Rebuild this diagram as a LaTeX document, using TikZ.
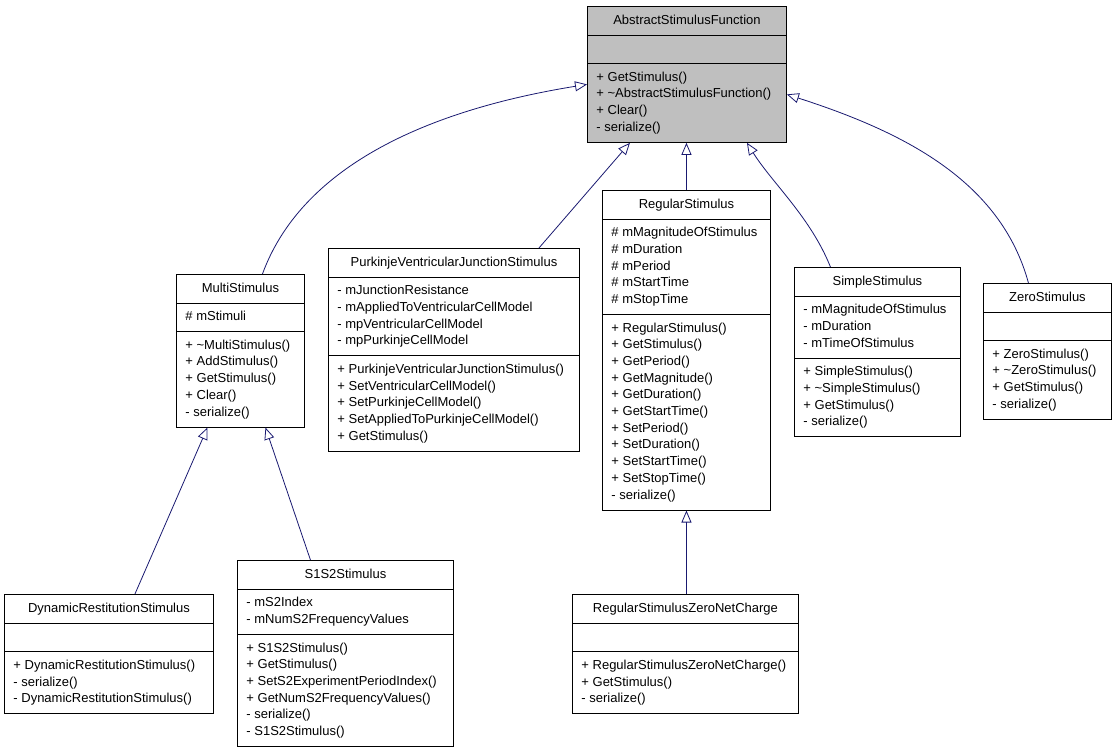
\documentclass[tikz,border=0pt]{standalone}
\usepackage{fontspec}
\setmainfont{Liberation Sans}
\usepackage{tikz}
\usetikzlibrary{shapes.multipart,arrows.meta}
\definecolor{inh}{HTML}{191970}
\newcommand{\members}[1]{\begin{tabular}{@{}l@{}}#1\end{tabular}}

\begin{document}
\begin{tikzpicture}[x=1pt,y=-1pt,
    cls/.style={rectangle split, rectangle split parts=3, draw, line width=0.9pt,
      rectangle split part align={center,left,left},
      rectangle split empty part height=11.69pt,
      rectangle split empty part depth=5.01pt,
      inner xsep=9pt, inner ysep=5.5pt, anchor=north west,
      font=\fontsize{13}{16.7}\selectfont},
    isa/.style={draw=inh, line width=0.8pt, -{Triangle[open,length=12pt,width=10pt]}}]
        \useasboundingbox (0,0) rectangle (1115,752);

        \node[cls, fill=black!25, minimum width=199pt] (ASF) at (587,6)
        {\strut AbstractStimulusFunction\nodepart{second}\nodepart{third}\members{+ GetStimulus()\\
         + \textasciitilde AbstractStimulusFunction()\\ + Clear()\\ - serialize()}};

        \node[cls, minimum width=128pt] (Multi) at (176,274)
        {\strut MultiStimulus\nodepart{second}\members{\# mStimuli}\nodepart{third}\members{+ \textasciitilde MultiStimulus()\\
         + AddStimulus()\\ + GetStimulus()\\ + Clear()\\ - serialize()}};

        \node[cls, minimum width=251pt] (PVJ) at (328,248)
        {\strut PurkinjeVentricularJunctionStimulus\nodepart{second}\members{- mJunctionResistance\\
         - mAppliedToVentricularCellModel\\ - mpVentricularCellModel\\ - mpPurkinjeCellModel}\nodepart{third}\members{+ PurkinjeVentricularJunctionStimulus()\\
         + SetVentricularCellModel()\\ + SetPurkinjeCellModel()\\ + SetAppliedToPurkinjeCellModel()\\ + GetStimulus()}};

        \node[cls, minimum width=168pt] (Reg) at (602,190)
        {\strut RegularStimulus\nodepart{second}\members{\# mMagnitudeOfStimulus\\ \# mDuration\\
         \# mPeriod\\ \# mStartTime\\ \# mStopTime}\nodepart{third}\members{+ RegularStimulus()\\
         + GetStimulus()\\ + GetPeriod()\\ + GetMagnitude()\\ + GetDuration()\\ + GetStartTime()\\
         + SetPeriod()\\ + SetDuration()\\ + SetStartTime()\\ + SetStopTime()\\ - serialize()}};

        \node[cls, minimum width=166pt] (Simple) at (794,267)
        {\strut SimpleStimulus\nodepart{second}\members{- mMagnitudeOfStimulus\\ - mDuration\\
         - mTimeOfStimulus}\nodepart{third}\members{+ SimpleStimulus()\\ + \textasciitilde SimpleStimulus()\\
         + GetStimulus()\\ - serialize()}};

        \node[cls, minimum width=128pt] (Zero) at (983,283)
        {\strut ZeroStimulus\nodepart{second}\nodepart{third}\members{+ ZeroStimulus()\\
         + \textasciitilde ZeroStimulus()\\ + GetStimulus()\\ - serialize()}};

        \node[cls, minimum width=209pt] (DynR) at (4,594)
        {\strut DynamicRestitutionStimulus\nodepart{second}\nodepart{third}\members{+ DynamicRestitutionStimulus()\\
         - serialize()\\ - DynamicRestitutionStimulus()}};

        \node[cls, minimum width=216pt] (S1S2) at (237,560)
        {\strut S1S2Stimulus\nodepart{second}\members{- mS2Index\\ - mNumS2FrequencyValues}\nodepart{third}\members{+ S1S2Stimulus()\\
         + GetStimulus()\\ + SetS2ExperimentPeriodIndex()\\ + GetNumS2FrequencyValues()\\
         - serialize()\\ - S1S2Stimulus()}};

        \node[cls, minimum width=226pt] (RegZ) at (572,594)
        {\strut RegularStimulusZeroNetCharge\nodepart{second}\nodepart{third}\members{+ RegularStimulusZeroNetCharge()\\
         + GetStimulus()\\ - serialize()}};

        \draw[isa] ([xshift=22pt]Multi.north) .. controls +(38,-104) and +(-167,27) .. ([yshift=-10pt]ASF.west);
        \draw[isa] ([xshift=85pt]PVJ.north) -- ([xshift=-57pt]ASF.south);
        \draw[isa] (Reg.north) -- (Reg.north |- ASF.south);
        \draw[isa] ([xshift=-47pt]Simple.north) .. controls +(-20,-50) and +(25,40) .. ([xshift=60pt]ASF.south);
        \draw[isa] ([xshift=-19pt]Zero.north) .. controls +(-28,-103) and +(115,37) .. ([yshift=-20pt]ASF.east);
        \draw[isa] ([xshift=26pt]DynR.north) -- ([xshift=-33pt]Multi.south);
        \draw[isa] ([xshift=-35pt]S1S2.north) -- ([xshift=25pt]Multi.south);
        \draw[isa] (Reg.south |- RegZ.north) -- (Reg.south);
      \end{tikzpicture}
\end{document}
